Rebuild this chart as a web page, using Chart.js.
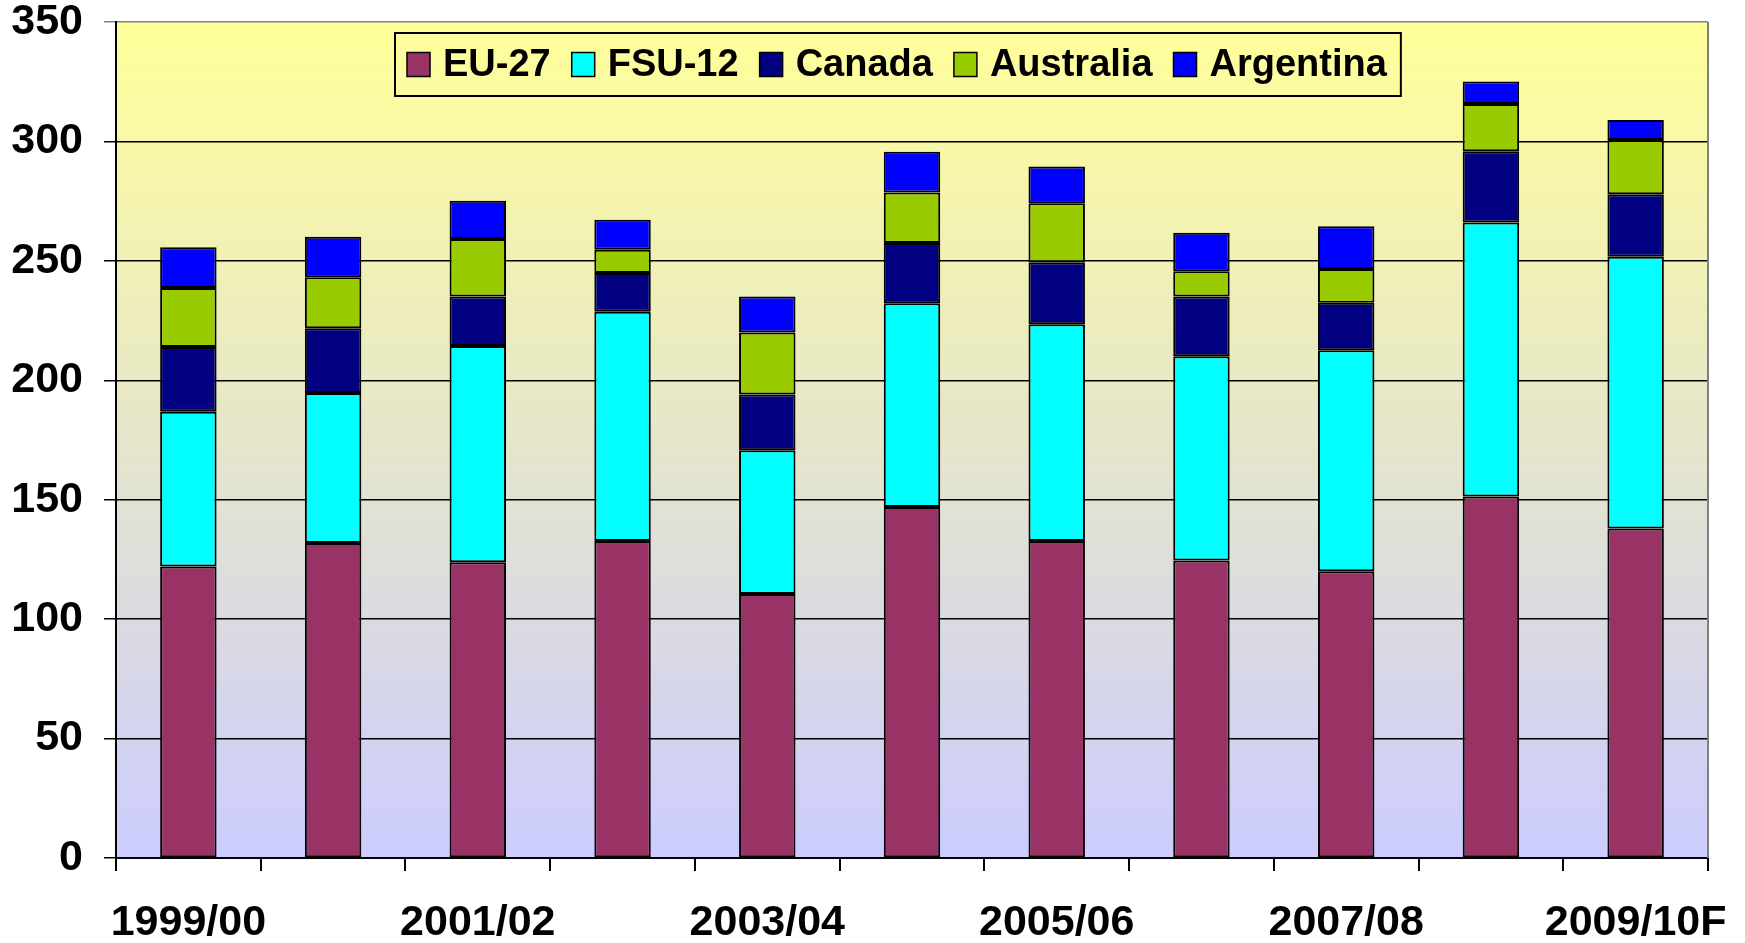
<!DOCTYPE html>
<html>
<head>
<meta charset="utf-8">
<script src="https://cdn.jsdelivr.net/npm/chart.js@4.4.0/dist/chart.umd.min.js"></script>
<style>
html,body{margin:0;padding:0;background:#fff;}
#wrap{width:1745px;height:943px;}
</style>
</head>
<body>
<div id="wrap"><canvas id="grafico"></canvas></div>
<script>
// Datos
const temporadas=["1999/00","2000/01","2001/02","2002/03","2003/04","2004/05","2005/06","2006/07","2007/08","2008/09","2009/10F"];
const eu27=[122.0,131.9,123.8,132.7,110.5,146.9,132.7,124.6,120.0,151.3,138.0];
const fsu12=[64.8,62.8,90.6,96.0,60.2,85.4,90.8,85.5,92.6,114.8,113.7];
const canada=[27.1,27.1,20.7,16.2,23.4,25.2,25.9,25.0,19.9,29.8,26.2];
const australia=[24.7,21.3,24.0,9.8,25.9,21.1,24.7,10.5,14.1,19.8,22.7];
const argentina=[17.1,17.0,16.1,12.5,15.1,17.1,15.4,16.2,17.9,9.4,8.4];
const ticksY=[0,50,100,150,200,250,300,350];

const fuente="'Liberation Sans', Arial, sans-serif";

function serie(nombre,datos,color){
  return {label:nombre,data:datos,backgroundColor:color,borderColor:"#000",borderWidth:2,borderSkipped:false,
    categoryPercentage:1,barPercentage:0.39};
}

// Fondo degradado del area
const fondoPlot={
  id:"fondoPlot",
  beforeDraw(chart){
    const {ctx,chartArea:a}=chart;
    const g=ctx.createLinearGradient(0,a.top,0,a.bottom);
    g.addColorStop(0,"#FFFF99");
    g.addColorStop(1,"#CCCCFF");
    ctx.save();
    ctx.fillStyle=g;
    ctx.fillRect(a.left,a.top,a.right-a.left,a.bottom-a.top);
    ctx.restore();
  },
  afterDatasetsDraw(chart){
    const {ctx,chartArea:a}=chart;
    ctx.save();
    ctx.strokeStyle="#808080";
    ctx.lineWidth=2;
    ctx.beginPath();
    ctx.moveTo(a.right,a.top);
    ctx.lineTo(a.right,a.bottom);
    ctx.stroke();
    ctx.restore();
  }
};

// Leyenda dentro del area
const leyenda={
  id:"leyenda",
  afterDraw(chart){
    const {ctx,chartArea:a}=chart;
    ctx.save();
    ctx.font="bold 38px "+fuente;
    ctx.textBaseline="middle";
    const x0=a.left+279, y0=a.top+11, alto=63;
    const mw=23, mh=24, gap=13, sep=21;
    let ancho=12;
    chart.data.datasets.forEach((d,i)=>{
      ancho+=mw+gap+ctx.measureText(d.label).width+(i<chart.data.datasets.length-1?sep:0);
    });
    ancho+=14;
    ctx.lineWidth=2;
    ctx.strokeStyle="#000";
    ctx.strokeRect(x0,y0,ancho,alto);
    let x=x0+12;
    const cy=y0+alto/2;
    chart.data.datasets.forEach(d=>{
      ctx.fillStyle=d.backgroundColor;
      ctx.fillRect(x,cy-mh/2,mw,mh);
      ctx.lineWidth=1.5;
      ctx.strokeRect(x,cy-mh/2,mw,mh);
      x+=mw+gap;
      ctx.fillStyle="#000";
      ctx.fillText(d.label,x,cy+1);
      x+=ctx.measureText(d.label).width+sep;
    });
    ctx.restore();
  }
};

new Chart(document.getElementById("grafico"),{
  type:"bar",
  data:{
    labels:temporadas,
    datasets:[
      serie("EU-27",eu27,"#993366"),
      serie("FSU-12",fsu12,"#00FFFF"),
      serie("Canada",canada,"#000080"),
      serie("Australia",australia,"#99CC00"),
      serie("Argentina",argentina,"#0000FF")
    ]
  },
  options:{
    responsive:true,
    maintainAspectRatio:false,
    animation:false,
    layout:{padding:{top:22,right:37,left:0,bottom:0}},
    plugins:{legend:{display:false},tooltip:{enabled:false}},
    scales:{
      x:{
        stacked:true,
        grid:{offset:true,drawOnChartArea:false,drawTicks:true,tickLength:13,color:"#000",lineWidth:2},
        border:{color:"#000",width:2},
        ticks:{autoSkip:false,maxRotation:0,padding:26,color:"#000",font:{family:fuente,size:43,weight:"bold"},
          callback:(v,i)=>i%2===0?temporadas[i]:""},
        afterFit(s){s.height=85;s.paddingLeft=0;s.paddingRight=0;}
      },
      y:{
        stacked:true,
        min:0,max:350,
        afterBuildTicks(s){s.ticks=ticksY.map(v=>({value:v}));},
        grid:{color:c=>c.tick&&c.tick.value===350?"#808080":"#000",lineWidth:1.5,drawTicks:true,tickLength:12},
        border:{color:"#000",width:2},
        ticks:{padding:21,color:"#000",font:{family:fuente,size:43,weight:"bold"}},
        afterFit(s){s.width=116;s.paddingTop=0;s.paddingBottom=0;}
      }
    }
  },
  plugins:[fondoPlot,leyenda]
});
</script>
</body>
</html>
